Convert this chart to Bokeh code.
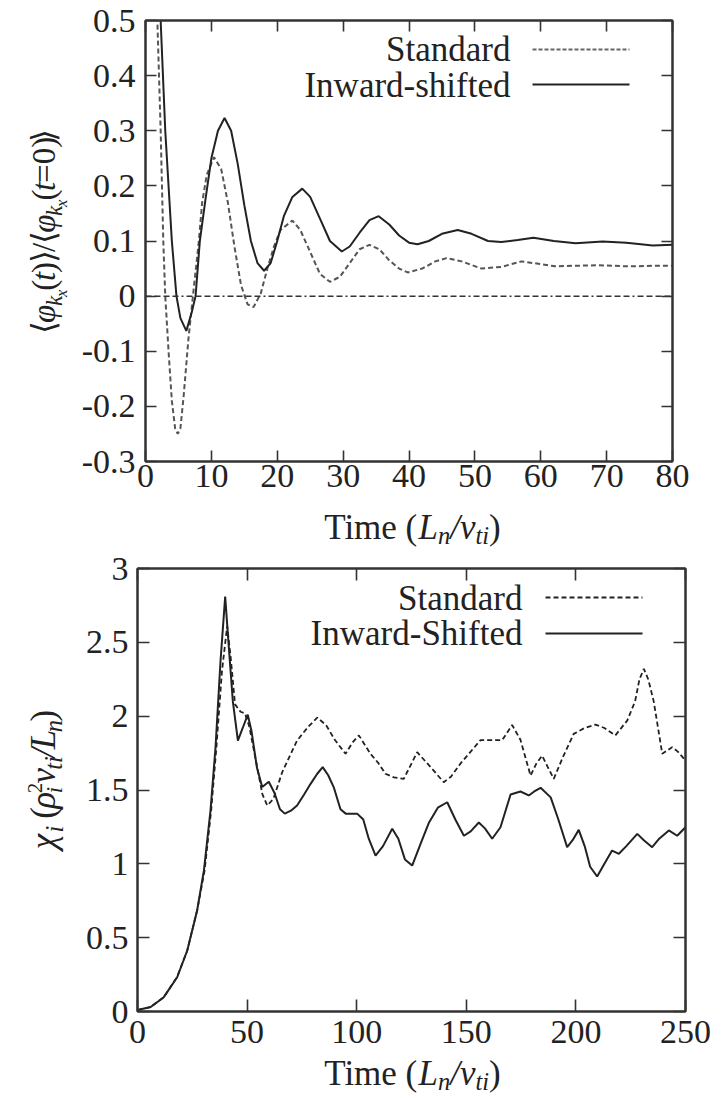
import math
from bokeh.plotting import figure
from bokeh.models import Range1d, FixedTicker, LinearAxis, Label, Span
from bokeh.layouts import column, row
from bokeh.embed import file_html
from bokeh.resources import INLINE

# ---------------- data ----------------
# top panel: normalized zonal potential vs time
top_t_std = [0, 1, 1.8, 2.3, 2.7, 3.0, 3.5, 4.0, 4.5, 4.9, 5.3, 5.8, 6.5, 7.2, 8.1, 8.6, 9.3, 10.4,
             11.5, 12.5, 13.5, 14.5, 15.5, 16.4, 17.5, 18.5, 19.5, 20.5, 22.3, 23.5, 25, 26.5, 28,
             29.5, 31, 32.5, 34, 35.5, 37, 38.5, 39.8, 42, 44, 45.7, 48, 51, 54, 57.1, 60, 62.2,
             65, 68.4, 71, 73.5, 77, 80]
top_std = [1.0, 0.78, 0.5, 0.3, 0.1, 0.0, -0.1, -0.19, -0.24, -0.25, -0.24, -0.18, -0.08, 0.0,
           0.1, 0.17, 0.22, 0.252, 0.23, 0.17, 0.09, 0.02, -0.015, -0.02, 0.005, 0.05, 0.09, 0.12,
           0.137, 0.12, 0.08, 0.04, 0.026, 0.035, 0.06, 0.085, 0.093, 0.085, 0.065, 0.05, 0.043,
           0.05, 0.063, 0.069, 0.063, 0.05, 0.053, 0.063, 0.058, 0.054, 0.055, 0.056, 0.055,
           0.054, 0.055, 0.055]
top_t_inw = [0, 1, 2.3, 3.0, 4.0, 4.7, 5.3, 6.2, 7.0, 7.6, 8.25, 9.1, 10, 11, 12, 13, 14, 15, 16,
             17, 18, 19, 20, 21, 22.3, 23.8, 25, 26.5, 28, 29.8, 31, 32.5, 34, 35.4, 37, 38.5, 40,
             41.3, 43, 45, 47.4, 49.5, 52, 54, 56.5, 58.9, 62, 65.3, 69.4, 73, 77, 80]
top_inw = [1.0, 0.8, 0.5, 0.3, 0.1, 0.0, -0.04, -0.063, -0.03, 0.0, 0.1, 0.175, 0.25, 0.3, 0.323,
           0.3, 0.24, 0.165, 0.1, 0.06, 0.046, 0.06, 0.1, 0.145, 0.18, 0.195, 0.18, 0.14, 0.1,
           0.081, 0.09, 0.115, 0.138, 0.145, 0.13, 0.11, 0.097, 0.094, 0.1, 0.113, 0.12, 0.113,
           0.1, 0.098, 0.102, 0.106, 0.1, 0.096, 0.099, 0.097, 0.092, 0.093]
top_xticks = [0, 10, 20, 30, 40, 50, 60, 70, 80]
top_xtick_labels = ["0", "10", "20", "30", "40", "50", "60", "70", "80"]
top_yticks = [-0.3, -0.2, -0.1, 0, 0.1, 0.2, 0.3, 0.4, 0.5]
top_ytick_labels = ["-0.3", "-0.2", "-0.1", "0", "0.1", "0.2", "0.3", "0.4", "0.5"]

# bottom panel: ion heat diffusivity vs time
bot_t_std = [0, 6, 12, 18, 22.7, 27.2, 30.6, 33.6, 36, 38.5, 40.9, 42.5, 44.5, 47, 49, 51, 54, 57,
             59.2, 62, 66, 72.8, 78, 82, 86, 90, 94.9, 98, 101, 106.3, 110, 113.1, 117, 121.5,
             124, 127.6, 133.7, 139.7, 143, 147.4, 152, 156.5, 162, 166.4, 170.9, 174.7, 179.3,
             182, 184.6, 187, 189.9, 194, 199, 204, 208.9, 213, 218, 223.4, 227, 229, 231, 233,
             235.5, 239.4, 243.9, 246.5, 250]
bot_std = [0.01, 0.03, 0.097, 0.232, 0.413, 0.684, 0.955, 1.36, 1.79, 2.3, 2.61, 2.4, 2.08, 2.03,
           2.02, 1.93, 1.7, 1.47, 1.395, 1.44, 1.62, 1.835, 1.93, 1.99, 1.94, 1.84, 1.745, 1.82,
           1.87, 1.745, 1.68, 1.61, 1.585, 1.576, 1.65, 1.756, 1.655, 1.553, 1.59, 1.68, 1.76,
           1.838, 1.838, 1.838, 1.94, 1.84, 1.598, 1.68, 1.733, 1.66, 1.576, 1.72, 1.88, 1.92,
           1.943, 1.92, 1.87, 1.97, 2.1, 2.25, 2.32, 2.25, 2.1, 1.745, 1.79, 1.76, 1.70]
bot_t_inw = [0, 6, 12, 18.1, 22.7, 27.2, 30.3, 33.3, 35.6, 37.9, 40.0, 41.5, 43.5, 45.8, 48, 50.3,
             52, 54.5, 56.9, 59.9, 62.5, 65, 67.2, 70, 72.8, 76, 78.9, 82, 84.5, 87, 89.5, 92.6,
             95, 98.7, 100.2, 103, 105.5, 108.6, 112, 116.2, 119, 122, 125.3, 129, 133, 137,
             141.3, 145, 148.9, 152, 155.7, 158.5, 161.8, 165.6, 170.2, 174.7, 178.5, 181, 183.9,
             188.5, 192, 196, 198.5, 201.3, 204, 206.5, 209.7, 213, 216.5, 219.6, 223, 228, 231,
             234.8, 238, 242.4, 246.2, 250]
bot_inw = [0.01, 0.03, 0.097, 0.232, 0.413, 0.684, 0.955, 1.36, 1.79, 2.38, 2.81, 2.5, 2.1, 1.835,
           1.92, 2.01, 1.9, 1.65, 1.52, 1.556, 1.48, 1.37, 1.34, 1.36, 1.395, 1.47, 1.54, 1.61,
           1.655, 1.6, 1.52, 1.37, 1.34, 1.34, 1.34, 1.3, 1.17, 1.056, 1.12, 1.237, 1.17, 1.03,
           0.988, 1.13, 1.28, 1.38, 1.417, 1.3, 1.19, 1.22, 1.28, 1.24, 1.17, 1.248, 1.47, 1.49,
           1.463, 1.49, 1.515, 1.45, 1.3, 1.113, 1.16, 1.23, 1.12, 0.98, 0.914, 1.0, 1.09, 1.068,
           1.12, 1.203, 1.16, 1.113, 1.17, 1.226, 1.19, 1.248]
bot_xticks = [0, 50, 100, 150, 200, 250]
bot_xtick_labels = ["0", "50", "100", "150", "200", "250"]
bot_yticks = [0, 0.5, 1, 1.5, 2, 2.5, 3]
bot_ytick_labels = ["0", "0.5", "1", "1.5", "2", "2.5", "3"]

legend_names_top = ["Standard", "Inward-shifted"]
legend_names_bot = ["Standard", "Inward-Shifted"]

# ---------------- layout ----------------
W = 723
YL_W = 72          # width of the strip holding the rotated y labels
TOP_H = 503        # top plot figure height
TOP_XL_H = 46      # strip holding the top x label
BOT_H = 506
BOT_XL_H = 1098 - TOP_H - TOP_XL_H - BOT_H
TXT = "#222222"
FONT = "'Liberation Serif', 'Times New Roman', serif"
TICK_FS = 34
LAB_FS = 35
BASE_FIX = 0.32    # renderer places the alphabetic baseline this many em too low


class TextMixin:
    def text(self, px, py, txt, fs, italic=False, angle=0.0, align="left", font=FONT):
        if angle == 0.0:
            py -= BASE_FIX * fs
        else:
            px -= BASE_FIX * fs
        x, y = self.conv(px, py)
        self.p.add_layout(Label(x=x, y=y, text=txt, text_font=font,
                                text_font_size=f"{fs:.1f}px",
                                text_font_style="italic" if italic else "normal",
                                text_color=TXT, text_align=align,
                                text_baseline="alphabetic", angle=angle))

    def compose(self, pieces, F, center, base, rotated=False):
        total = sum(w * s * F for (_, _, s, _, w) in pieces)
        if not rotated:
            cur = center - total / 2
            for (t, it, s, sh, w) in pieces:
                self.text(cur, base + sh * F, t, F * s, italic=it)
                cur += w * s * F
        else:
            cur = center + total / 2
            for (t, it, s, sh, w) in pieces:
                self.text(base + sh * F, cur, t, F * s, italic=it, angle=math.pi / 2)
                cur -= w * s * F


class TextStrip(TextMixin):
    """A blank figure whose frame fills it, used to carry composed labels."""
    def __init__(self, w, h, off_x, off_y):
        self.w, self.h, self.ox, self.oy = w, h, off_x, off_y
        self.p = figure(width=w, height=h, x_range=Range1d(0, w), y_range=Range1d(0, h),
                        output_backend="svg", toolbar_location=None, title=None,
                        x_axis_location=None, y_axis_location=None, min_border=0)
        self.p.grid.visible = False
        self.p.outline_line_color = None
        self.p.background_fill_color = "white"
        self.p.border_fill_color = "white"

    def conv(self, px, py):
        return px - self.ox, (self.oy + self.h) - py


class Panel(TextMixin):
    def __init__(self, w, h, off_x, off_y, left, right, top, bottom, xr, yr):
        self.l, self.r, self.t, self.b = left, right, top, bottom
        self.xr, self.yr = xr, yr
        self.p = figure(width=w, height=h, x_range=Range1d(*xr), y_range=Range1d(*yr),
                        output_backend="svg", toolbar_location=None, title=None,
                        min_border_left=left - off_x, min_border_right=off_x + w - right,
                        min_border_top=top - off_y, min_border_bottom=off_y + h - bottom)
        p = self.p
        p.grid.visible = False
        p.outline_line_color = "#333333"
        p.outline_line_width = 2
        p.background_fill_color = "white"
        p.border_fill_color = "white"

    def conv(self, px, py):
        x = self.xr[0] + (px - self.l) * (self.xr[1] - self.xr[0]) / (self.r - self.l)
        y = self.yr[0] + (self.b - py) * (self.yr[1] - self.yr[0]) / (self.b - self.t)
        return x, y

    def axes(self, xt, xl, yt, yl, tick_len, xstand, ystand):
        p = self.p
        xo = dict(zip(xt, xl))
        yo = dict(zip(yt, yl))
        for ax, tk, ov, st in ((p.xaxis[0], xt, xo, xstand), (p.yaxis[0], yt, yo, ystand)):
            ax.ticker = FixedTicker(ticks=tk)
            ax.major_label_overrides = ov
            ax.major_tick_in = tick_len
            ax.major_tick_out = 0
            ax.major_tick_line_color = "#333333"
            ax.major_tick_line_width = 1.6
            ax.minor_tick_line_color = None
            ax.axis_line_color = "#333333"
            ax.axis_line_width = 2
            ax.major_label_text_font = FONT
            ax.major_label_text_font_size = f"{TICK_FS}px"
            ax.major_label_text_color = TXT
            ax.major_label_standoff = st
        for loc, tk in (("right", yt), ("above", xt)):
            ax = LinearAxis(ticker=FixedTicker(ticks=tk), major_tick_in=tick_len,
                            major_tick_out=0, minor_tick_line_color=None,
                            major_tick_line_color="#333333", major_tick_line_width=1.6,
                            major_label_text_font_size="0px", major_label_text_alpha=0,
                            major_label_standoff=0, axis_line_color="#333333",
                            axis_line_width=2)
            p.add_layout(ax, loc)


# label pieces: (text, italic, size factor, baseline shift in em, advance in em)
xlab = [("Time (", False, 1, 0, 2.694), ("L", True, 1, 0, 0.556), ("n", True, 0.7, 0.15, 0.5),
        ("/", True, 1, 0, 0.278), ("v", True, 1, 0, 0.444), ("ti", True, 0.7, 0.15, 0.556),
        (")", False, 1, 0, 0.333)]
ylab_top = [("⟨", False, 1, 0, 0.39), ("φ", True, 1, 0, 0.58), ("k", True, 0.7, 0.22, 0.444),
            ("x", True, 0.5, 0.38, 0.444), ("(", False, 1, 0, 0.333), ("t", True, 1, 0, 0.278),
            (")", False, 1, 0, 0.333), ("⟩", False, 1, 0, 0.39), ("/", False, 1, 0, 0.278),
            ("⟨", False, 1, 0, 0.39), ("φ", True, 1, 0, 0.58), ("k", True, 0.7, 0.22, 0.444),
            ("x", True, 0.5, 0.38, 0.444), ("(", False, 1, 0, 0.333), ("t", True, 1, 0, 0.278),
            ("=0)", False, 1, 0, 1.397), ("⟩", False, 1, 0, 0.39)]
ylab_bot = [("χ", True, 1, 0, 0.55), ("i", True, 0.7, 0.22, 0.636), ("(", False, 1, 0, 0.333),
            ("ρ", True, 1, 0, 0.5), ("2", False, 0.6, -0.36, 0.0), ("i", True, 0.65, 0.22, 0.5),
            ("v", True, 1, 0, 0.444), ("ti", True, 0.7, 0.2, 0.556), ("/", True, 1, 0, 0.278),
            ("L", True, 1, 0, 0.556), ("n", True, 0.7, 0.2, 0.5), (")", False, 1, 0, 0.333)]

# ---------- top panel ----------
y0_top = 0
top = Panel(W - YL_W, TOP_H, YL_W, y0_top, 145, 672, 20, 461, (0, 80), (-0.3, 0.5))
tp = top.p
top.axes(top_xticks, top_xtick_labels, top_yticks, top_ytick_labels, 11, 3, 10)
tp.add_layout(Span(location=0, dimension="width", line_color="#333333", line_width=1.5,
                   line_dash="6 3 6 3 6 3 6 3 2 3"))
tp.line(top_t_std, top_std, line_color="#555555", line_width=2, line_dash="5 3")
tp.line(top_t_inw, top_inw, line_color="#222222", line_width=2)

for i, (name, py_line, py_txt) in enumerate(zip(legend_names_top, [49, 84], [60, 96])):
    top.text(510, py_txt, name, LAB_FS, align="right")
    xa, ya = top.conv(532, py_line)
    xb, _ = top.conv(629, py_line)
    if i == 0:
        tp.line([xa, xb], [ya, ya], line_color="#666666", line_width=2, line_dash="4 2")
    else:
        tp.line([xa, xb], [ya, ya], line_color="#222222", line_width=2)

top_yl = TextStrip(YL_W, TOP_H, 0, y0_top)
top_yl.compose(ylab_top, 33, 242, 54, rotated=True)
top_xl = TextStrip(W, TOP_XL_H, 0, TOP_H)
top_xl.compose(xlab, LAB_FS, 412, 538)

# ---------- bottom panel ----------
y0_bot = TOP_H + TOP_XL_H
bot = Panel(W - YL_W, BOT_H, YL_W, y0_bot, 137, 685, 568, 1011, (0, 250), (0, 3))
bp = bot.p
bot.axes(bot_xticks, bot_xtick_labels, bot_yticks, bot_ytick_labels, 12, 9, 9)
bp.line(bot_t_std, bot_std, line_color="#222222", line_width=1.8, line_dash="5 3")
bp.line(bot_t_inw, bot_inw, line_color="#222222", line_width=2)

for i, (name, py_line, py_txt) in enumerate(zip(legend_names_bot, [597, 633], [609, 644])):
    bot.text(522, py_txt, name, LAB_FS, align="right")
    xa, ya = bot.conv(545, py_line)
    xb, _ = bot.conv(642, py_line)
    if i == 0:
        bp.line([xa, xb], [ya, ya], line_color="#222222", line_width=1.8, line_dash="5 3")
    else:
        bp.line([xa, xb], [ya, ya], line_color="#222222", line_width=2)

bot_yl = TextStrip(YL_W, BOT_H, 0, y0_bot)
bot_yl.compose(ylab_bot, LAB_FS, 791, 54, rotated=True)
bot_xl = TextStrip(W, BOT_XL_H, 0, y0_bot + BOT_H)
bot_xl.compose(xlab, LAB_FS, 412, 1084)

layout = column(row(top_yl.p, tp, spacing=0), top_xl.p,
                row(bot_yl.p, bp, spacing=0), bot_xl.p, spacing=0)
open("out.html", "w").write(file_html(layout, INLINE))
